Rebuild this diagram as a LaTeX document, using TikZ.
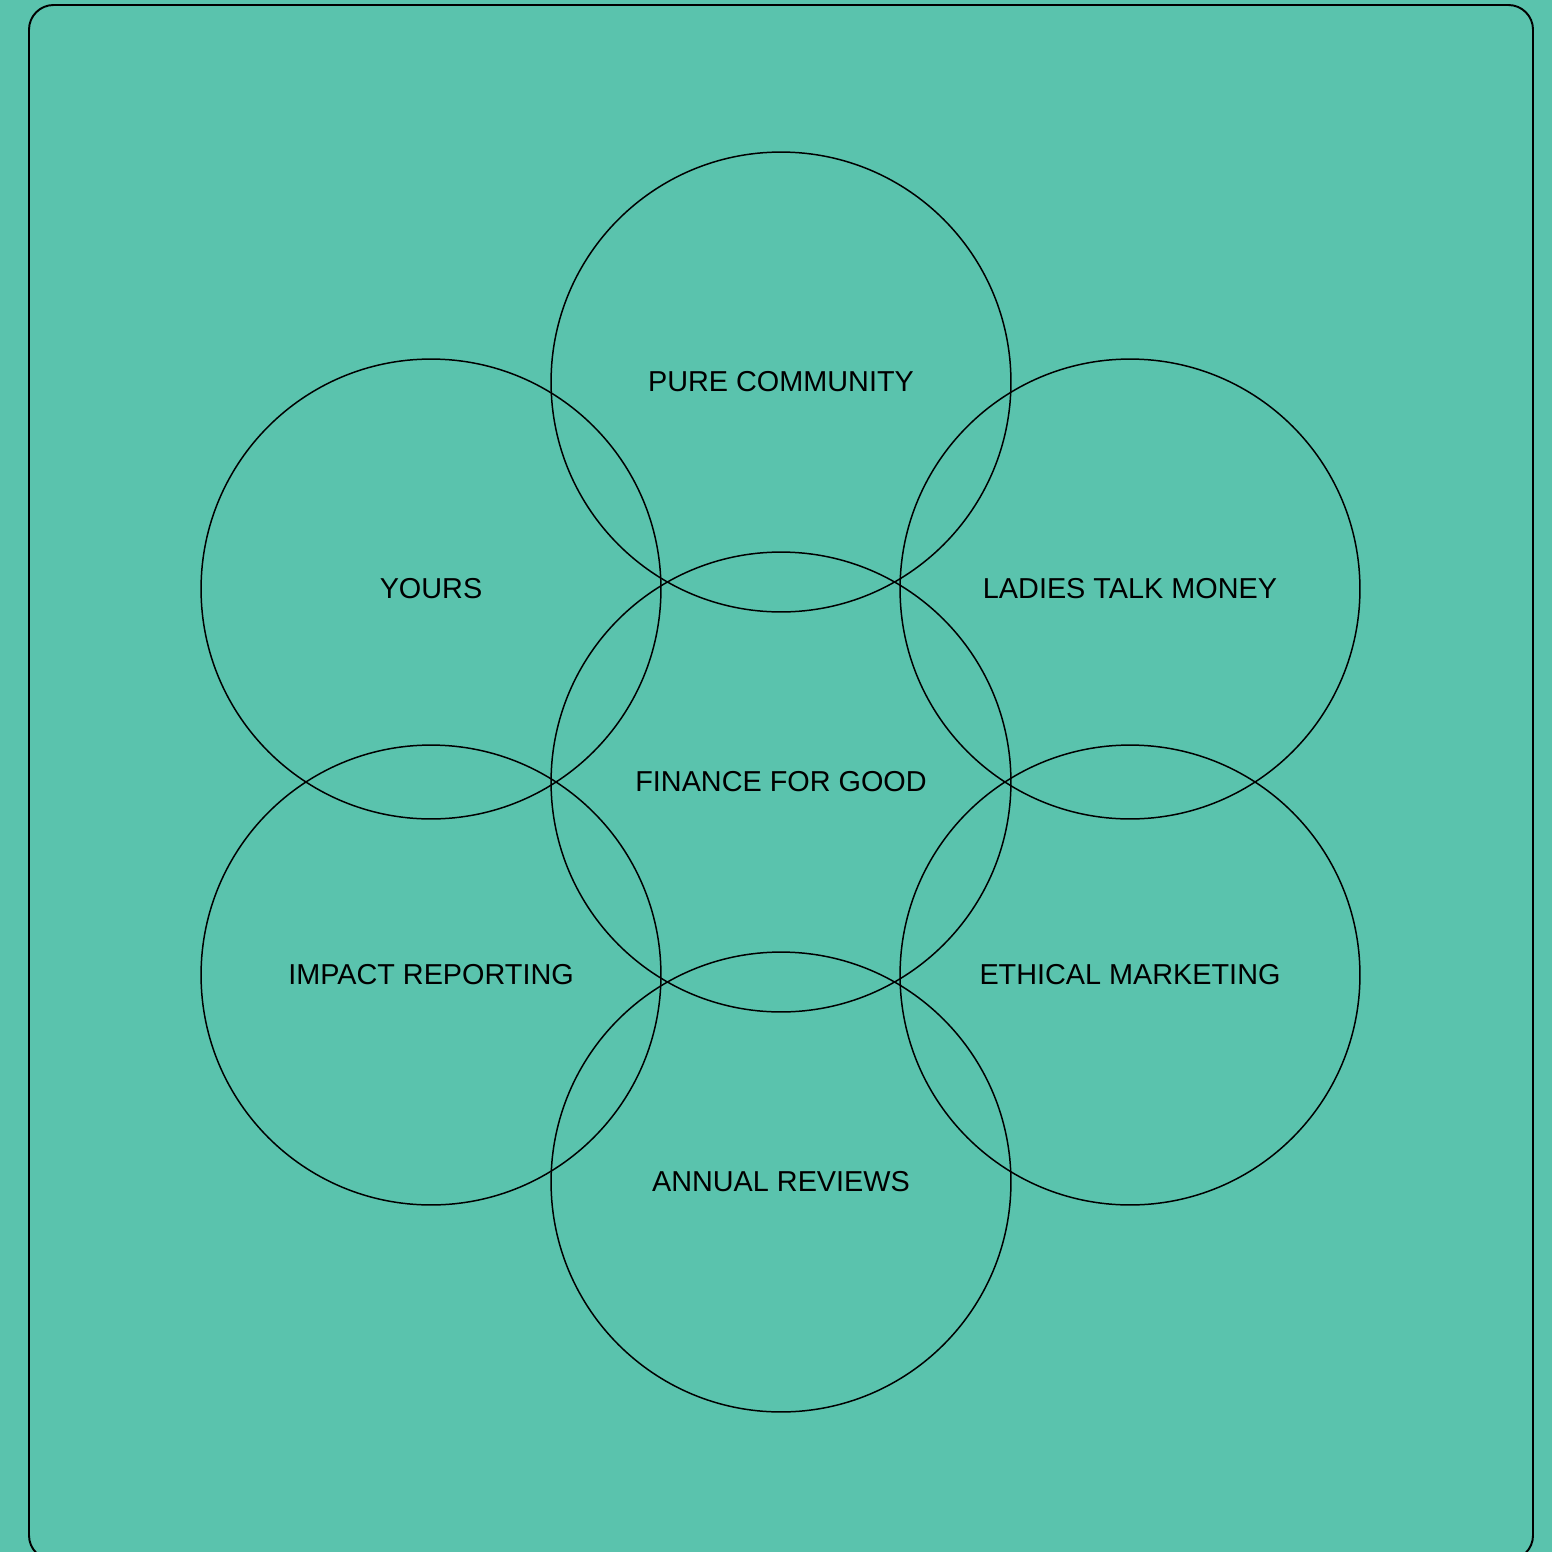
\documentclass[tikz,border=0pt]{standalone}
\usepackage{fontspec}
\setmainfont{Liberation Sans}
\definecolor{ringBg}{HTML}{5AC3AD}
\begin{document}
\begin{tikzpicture}
% ring diagram, laid out in pixel units (y grows downwards)
\def\pxsz{0.02cm}
\providecommand{\ringLineWidth}{0.85pt}
\providecommand{\ringFrameWidth}{1.1pt}
\providecommand{\ringDiameter}{9.2cm}
\tikzset{
  ring/.style={circle, draw=black, line width=\ringLineWidth, minimum size=\ringDiameter,
    inner sep=0pt, font=\fontsize{16.4}{19}\selectfont, text=black}
}
\begin{scope}[x=\pxsz, y=-\pxsz]
  % Page background and frame
  \fill[ringBg] (0,0) rectangle (1552,1552);
  \useasboundingbox (0,0) rectangle (1552,1552);
  \draw[line width=\ringFrameWidth, rounded corners=14pt] (29,5) rectangle (1533,1560);
  % Rings
  \node[ring] (community) at (781,382)  {PURE COMMUNITY};
  \node[ring] (yours)     at (431,589)  {YOURS};
  \node[ring] (ladies)    at (1130,589) {LADIES TALK MONEY};
  \node[ring] (finance)   at (781,782)  {FINANCE FOR GOOD};
  \node[ring] (impact)    at (431,975)  {IMPACT REPORTING};
  \node[ring] (ethical)   at (1130,975) {ETHICAL MARKETING};
  \node[ring] (annual)    at (781,1182) {ANNUAL REVIEWS};
\end{scope}
\end{tikzpicture}
\end{document}
